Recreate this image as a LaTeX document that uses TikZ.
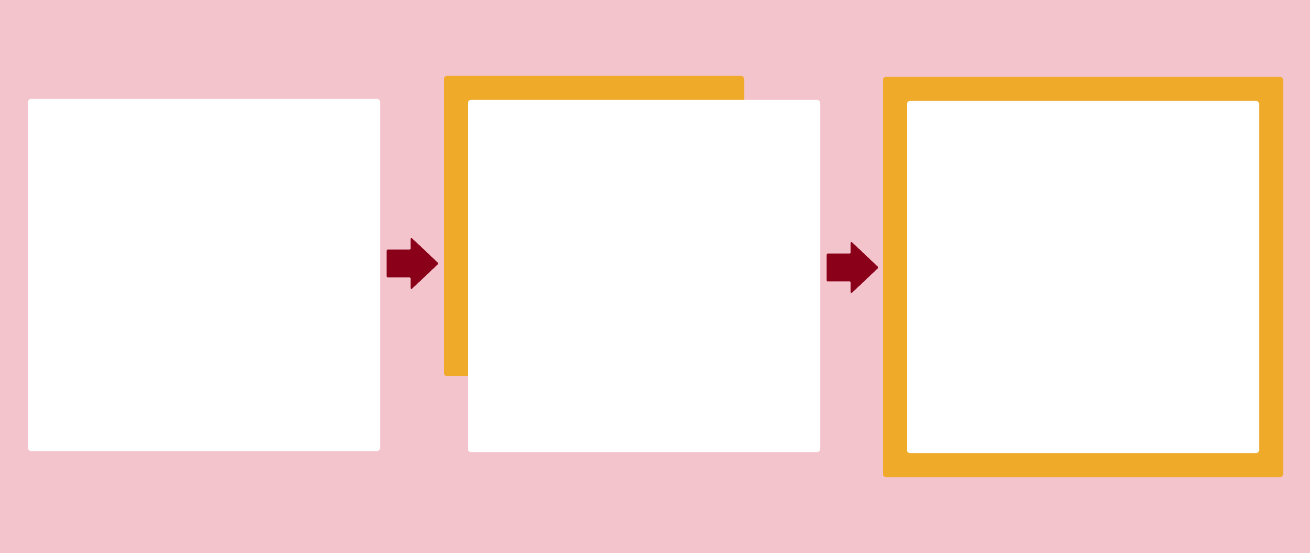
\documentclass[tikz,border=0pt]{standalone}
\definecolor{bgpink}{HTML}{F4C4CC}
\definecolor{frameorange}{HTML}{EFAA2A}
\definecolor{arrowred}{HTML}{8A0019}
\tikzset{
  panel/.style={fill=white, draw=none, rounded corners=2.5pt},
  frame/.style={fill=frameorange, draw=none, rounded corners=2.5pt},
  flowarrow/.style={fill=arrowred, draw=arrowred, line width=0.8pt, line join=round, rounded corners=0.8pt}
}
\begin{document}
\begin{tikzpicture}[x=1pt,y=-1pt]
\fill[bgpink] (0,0) rectangle (1310,553);
\useasboundingbox (0,0) rectangle (1310,553);
% panel 1
\path[panel] (28,99) rectangle (380,451);
\node[inner sep=0, minimum size=0] (p1) at (204,275) {};
% panel 2 with offset frame
\path[frame] (444,76) rectangle (744,376);
\path[panel] (468,100) rectangle (820,452);
\node[inner sep=0] (p2) at (644,276) {};
% panel 3 with surrounding frame
\path[frame] (883,77) rectangle (1283,477);
\path[panel] (907,101) rectangle (1259,453);
\node[inner sep=0] (p3) at (1083,277) {};
% arrows
\coordinate (a1) at (387,250);
\draw[flowarrow] (a1) -- (411,250) -- (411,238) -- (438,263.5) -- (411,289) -- (411,277) -- (387,277) -- cycle;
\coordinate (a2) at (827,254);
\draw[flowarrow] (a2) -- (851,254) -- (851,242) -- (878,267.5) -- (851,293) -- (851,281) -- (827,281) -- cycle;
\end{tikzpicture}
\end{document}
